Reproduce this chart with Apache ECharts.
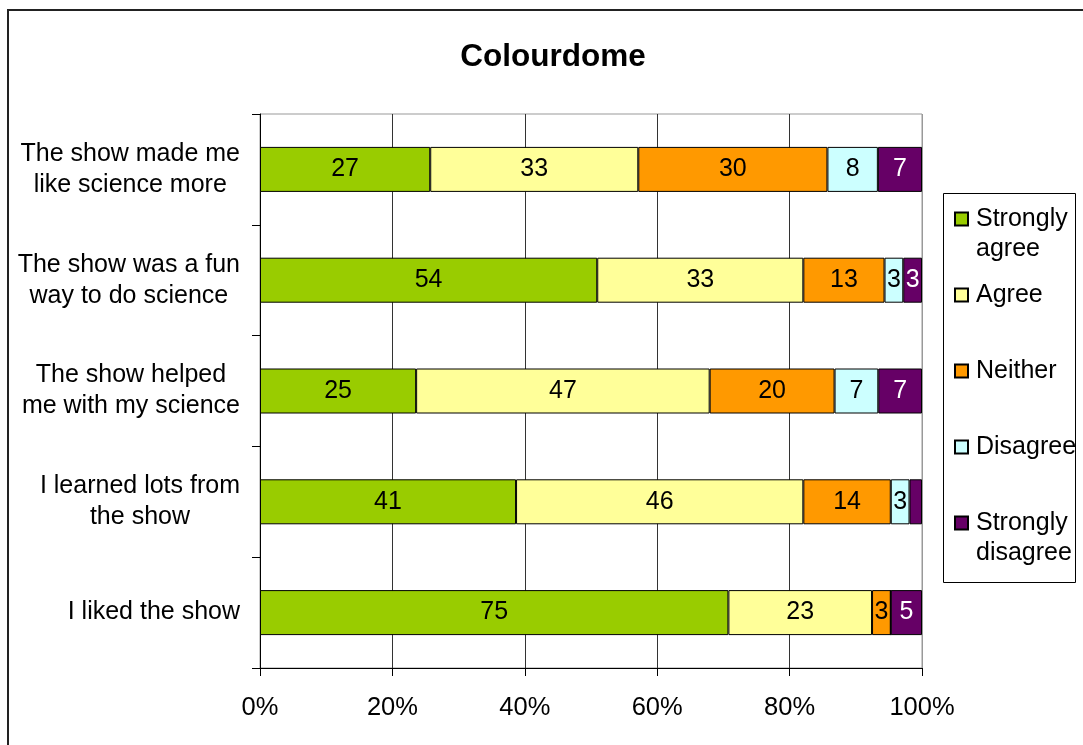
<!DOCTYPE html>
<html><head><meta charset="utf-8">
<script src="https://cdn.jsdelivr.net/npm/echarts@6/dist/echarts.min.js"></script>
<style>html,body{margin:0;padding:0;background:#fff}#c{width:1083px;height:745px}</style>
</head><body><div id="c"></div>
<script>
const categories = ['The show made me\nlike science more', 'The show was a fun\nway to do science', 'The show helped\nme with my science', 'I learned lots from\nthe show', 'I liked the show'];
const seriesNames = ['Strongly agree', 'Agree', 'Neither', 'Disagree', 'Strongly disagree'];
const stronglyAgree = [27, 54, 25, 41, 75];
const agree = [33, 33, 47, 46, 23];
const neither = [30, 13, 20, 14, 3];
const disagree = [8, 3, 7, 3, 0];
const stronglyDisagree = [7, 3, 7, 2, 5];
const xTickLabels = ['0%', '20%', '40%', '60%', '80%', '100%'];
const colors = ['#99CC00', '#FFFF99', '#FF9900', '#CCFFFF', '#660066'];
const labelColors = ['#000', '#000', '#000', '#000', '#fff'];

const FONT = "'Liberation Sans', Arial, sans-serif";
const allSeries = [stronglyAgree, agree, neither, disagree, stronglyDisagree];
const totals = categories.map((c, i) => allSeries.reduce((s, arr) => s + arr[i], 0));

const legendTops = [174, 280, 356, 432, 478];
const legendText = ['\nStrongly\nagree', 'Agree', 'Neither', 'Disagree', '\nStrongly\ndisagree'];

const chart = echarts.init(document.getElementById('c'), null, {renderer: 'canvas'});
chart.setOption({
  animation: false,
  backgroundColor: '#fff',
  textStyle: {fontFamily: FONT},
  title: {
    text: 'Colourdome', left: 548, textAlign: 'center', top: 36,
    textStyle: {fontFamily: FONT, fontSize: 31.5, fontWeight: 'bold', color: '#000'}
  },
  graphic: [
    {type: 'rect', shape: {x: 8, y: 10, width: 1300, height: 900}, style: {fill: 'none', stroke: '#222', lineWidth: 2}, silent: true},
    {type: 'rect', shape: {x: 943.5, y: 193.5, width: 132, height: 389}, style: {fill: 'none', stroke: '#000', lineWidth: 1}, silent: true}
  ],
  legend: seriesNames.map((n, i) => ({
    data: [n], left: 954, top: legendTops[i], orient: 'vertical', padding: 0, itemGap: 0,
    itemWidth: 13, itemHeight: 13, selectedMode: false, icon: 'rect',
    formatter: () => legendText[i],
    textStyle: {fontFamily: FONT, fontSize: 25, lineHeight: 30, color: '#000', padding: [0, 0, 0, 3]}
  })),
  grid: {left: 260, right: 161, top: 114, bottom: 77, show: true, borderColor: '#999', borderWidth: 1, containLabel: false},
  xAxis: {
    type: 'value', min: 0, max: 100, interval: 20,
    axisLine: {show: true, lineStyle: {color: '#000', width: 1}},
    axisTick: {show: true, length: 8, lineStyle: {color: '#000'}},
    splitLine: {show: true, lineStyle: {color: ['#000', '#333', '#333', '#333', '#333', '#999'], width: 1}},
    axisLabel: {formatter: v => xTickLabels[Math.round(v / 20)], fontFamily: FONT, fontSize: 25.5, color: '#000', margin: 27}
  },
  yAxis: {
    type: 'category', inverse: true, data: categories,
    axisLine: {show: true, lineStyle: {color: '#000', width: 1}},
    axisTick: {show: true, length: 8, alignWithLabel: false, lineStyle: {color: '#000'}},
    splitLine: {show: false},
    axisLabel: {
      margin: 20, color: '#000', fontFamily: FONT, fontSize: 25, lineHeight: 31,
      formatter: v => v.split('\n').map(l => '{c|' + l + '}').join('\n'),
      rich: {c: {align: 'center', fontFamily: FONT, fontSize: 25, lineHeight: 31, color: '#000'}}
    }
  },
  series: seriesNames.map((name, si) => ({
    name, type: 'bar', stack: 'total', barWidth: 45,
    itemStyle: {color: colors[si], borderColor: '#000', borderWidth: 1},
    label: {
      show: true, position: 'inside', fontFamily: FONT, fontSize: 25, color: labelColors[si],
      formatter: p => String(p.data.raw)
    },
    data: allSeries[si].map((v, ci) => ({
      value: v / totals[ci] * 100, raw: v,
      label: {show: v >= 3}
    }))
  }))
});
</script>
</body></html>
